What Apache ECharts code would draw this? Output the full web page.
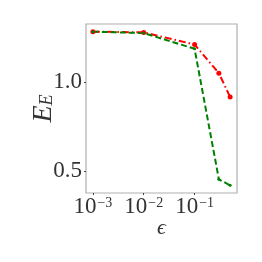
<!DOCTYPE html>
<html><head><meta charset="utf-8">
<script src="https://cdn.jsdelivr.net/npm/echarts@6/dist/echarts.min.js"></script>
<style>html,body{margin:0;padding:0;background:#fff}#c{width:262px;height:262px}</style>
</head><body><div id="c"></div>
<script>
const epsilons = [0.001, 0.01, 0.1, 0.3, 0.5];
const redValues = [1.283, 1.279, 1.211, 1.05, 0.916];
const greenValues = [1.283, 1.275, 1.187, 0.455, 0.421];
const xTicks = [0.001, 0.01, 0.1];
const xTickLabels = ['-3', '-2', '-1'];
const yTicks = [0.5, 1.0];
const yTickLabels = ['0.5', '1.0'];

const chart = echarts.init(document.getElementById('c'), null, {renderer: 'canvas'});
const serif = 'Liberation Serif';
chart.setOption({
  animation: false,
  grid: {left: 86, top: 24, right: 25, bottom: 69, show: true, borderColor: '#b0b0b0', borderWidth: 1.2},
  xAxis: {
    type: 'log', logBase: 10, min: 0.000733, max: 0.682,
    axisLine: {show: false},
    splitLine: {show: false},
    axisTick: {show: true, length: 2, lineStyle: {color: '#444'}, customValues: xTicks},
    minorTick: {show: false},
    axisLabel: {
      customValues: xTicks, margin: 3, color: '#333',
      formatter: function (v) {
        const i = xTicks.findIndex(t => Math.abs(Math.log10(t) - Math.log10(v)) < 1e-6);
        return '{b|10}{s|−' + (i >= 0 ? xTickLabels[i].slice(1) : '') + '}';
      },
      rich: {
        b: {fontFamily: serif, fontSize: 23, color: '#333', verticalAlign: 'bottom', lineHeight: 22},
        s: {fontFamily: serif, fontSize: 14, color: '#333', verticalAlign: 'top', lineHeight: 14, padding: [0, 0, 0, 1]}
      }
    },
    name: 'ϵ', nameLocation: 'middle', nameGap: 24, nameMoveOverlap: false,
    nameTextStyle: {fontFamily: serif, fontSize: 22, color: '#333', fontStyle: 'italic'}
  },
  yAxis: {
    type: 'value', min: 0.378, max: 1.326,
    axisLine: {show: false},
    splitLine: {show: false},
    axisTick: {show: true, length: 2, lineStyle: {color: '#444'}, customValues: yTicks},
    axisLabel: {
      customValues: yTicks, margin: 4, color: '#333', fontFamily: serif, fontSize: 23,
      formatter: function (v) { const i = yTicks.findIndex(t => Math.abs(t - v) < 1e-6); return i >= 0 ? yTickLabels[i] : ''; }
    },
    name: '{e|E}{sub|E}', nameLocation: 'middle', nameGap: 30, nameRotate: 90, nameMoveOverlap: false,
    nameTextStyle: {
      rich: {
        e: {fontFamily: serif, fontSize: 28, fontStyle: 'italic', color: '#333', verticalAlign: 'top', lineHeight: 26},
        sub: {fontFamily: serif, fontSize: 18, fontStyle: 'italic', color: '#333', verticalAlign: 'bottom', lineHeight: 17}
      }
    }
  },
  series: [
    {
      type: 'line', data: epsilons.map((x, i) => [x, redValues[i]]),
      symbol: 'circle', symbolSize: 5, showSymbol: true,
      itemStyle: {color: '#ff0000'},
      lineStyle: {color: '#ff0000', width: 2, type: [7, 3, 1.5, 3]}
    },
    {
      type: 'line', data: epsilons.map((x, i) => [x, greenValues[i]]),
      symbol: 'circle', symbolSize: 3, showSymbol: true,
      itemStyle: {color: '#008000'},
      lineStyle: {color: '#008000', width: 2, type: [6, 3]}
    }
  ]
});
</script></body></html>
